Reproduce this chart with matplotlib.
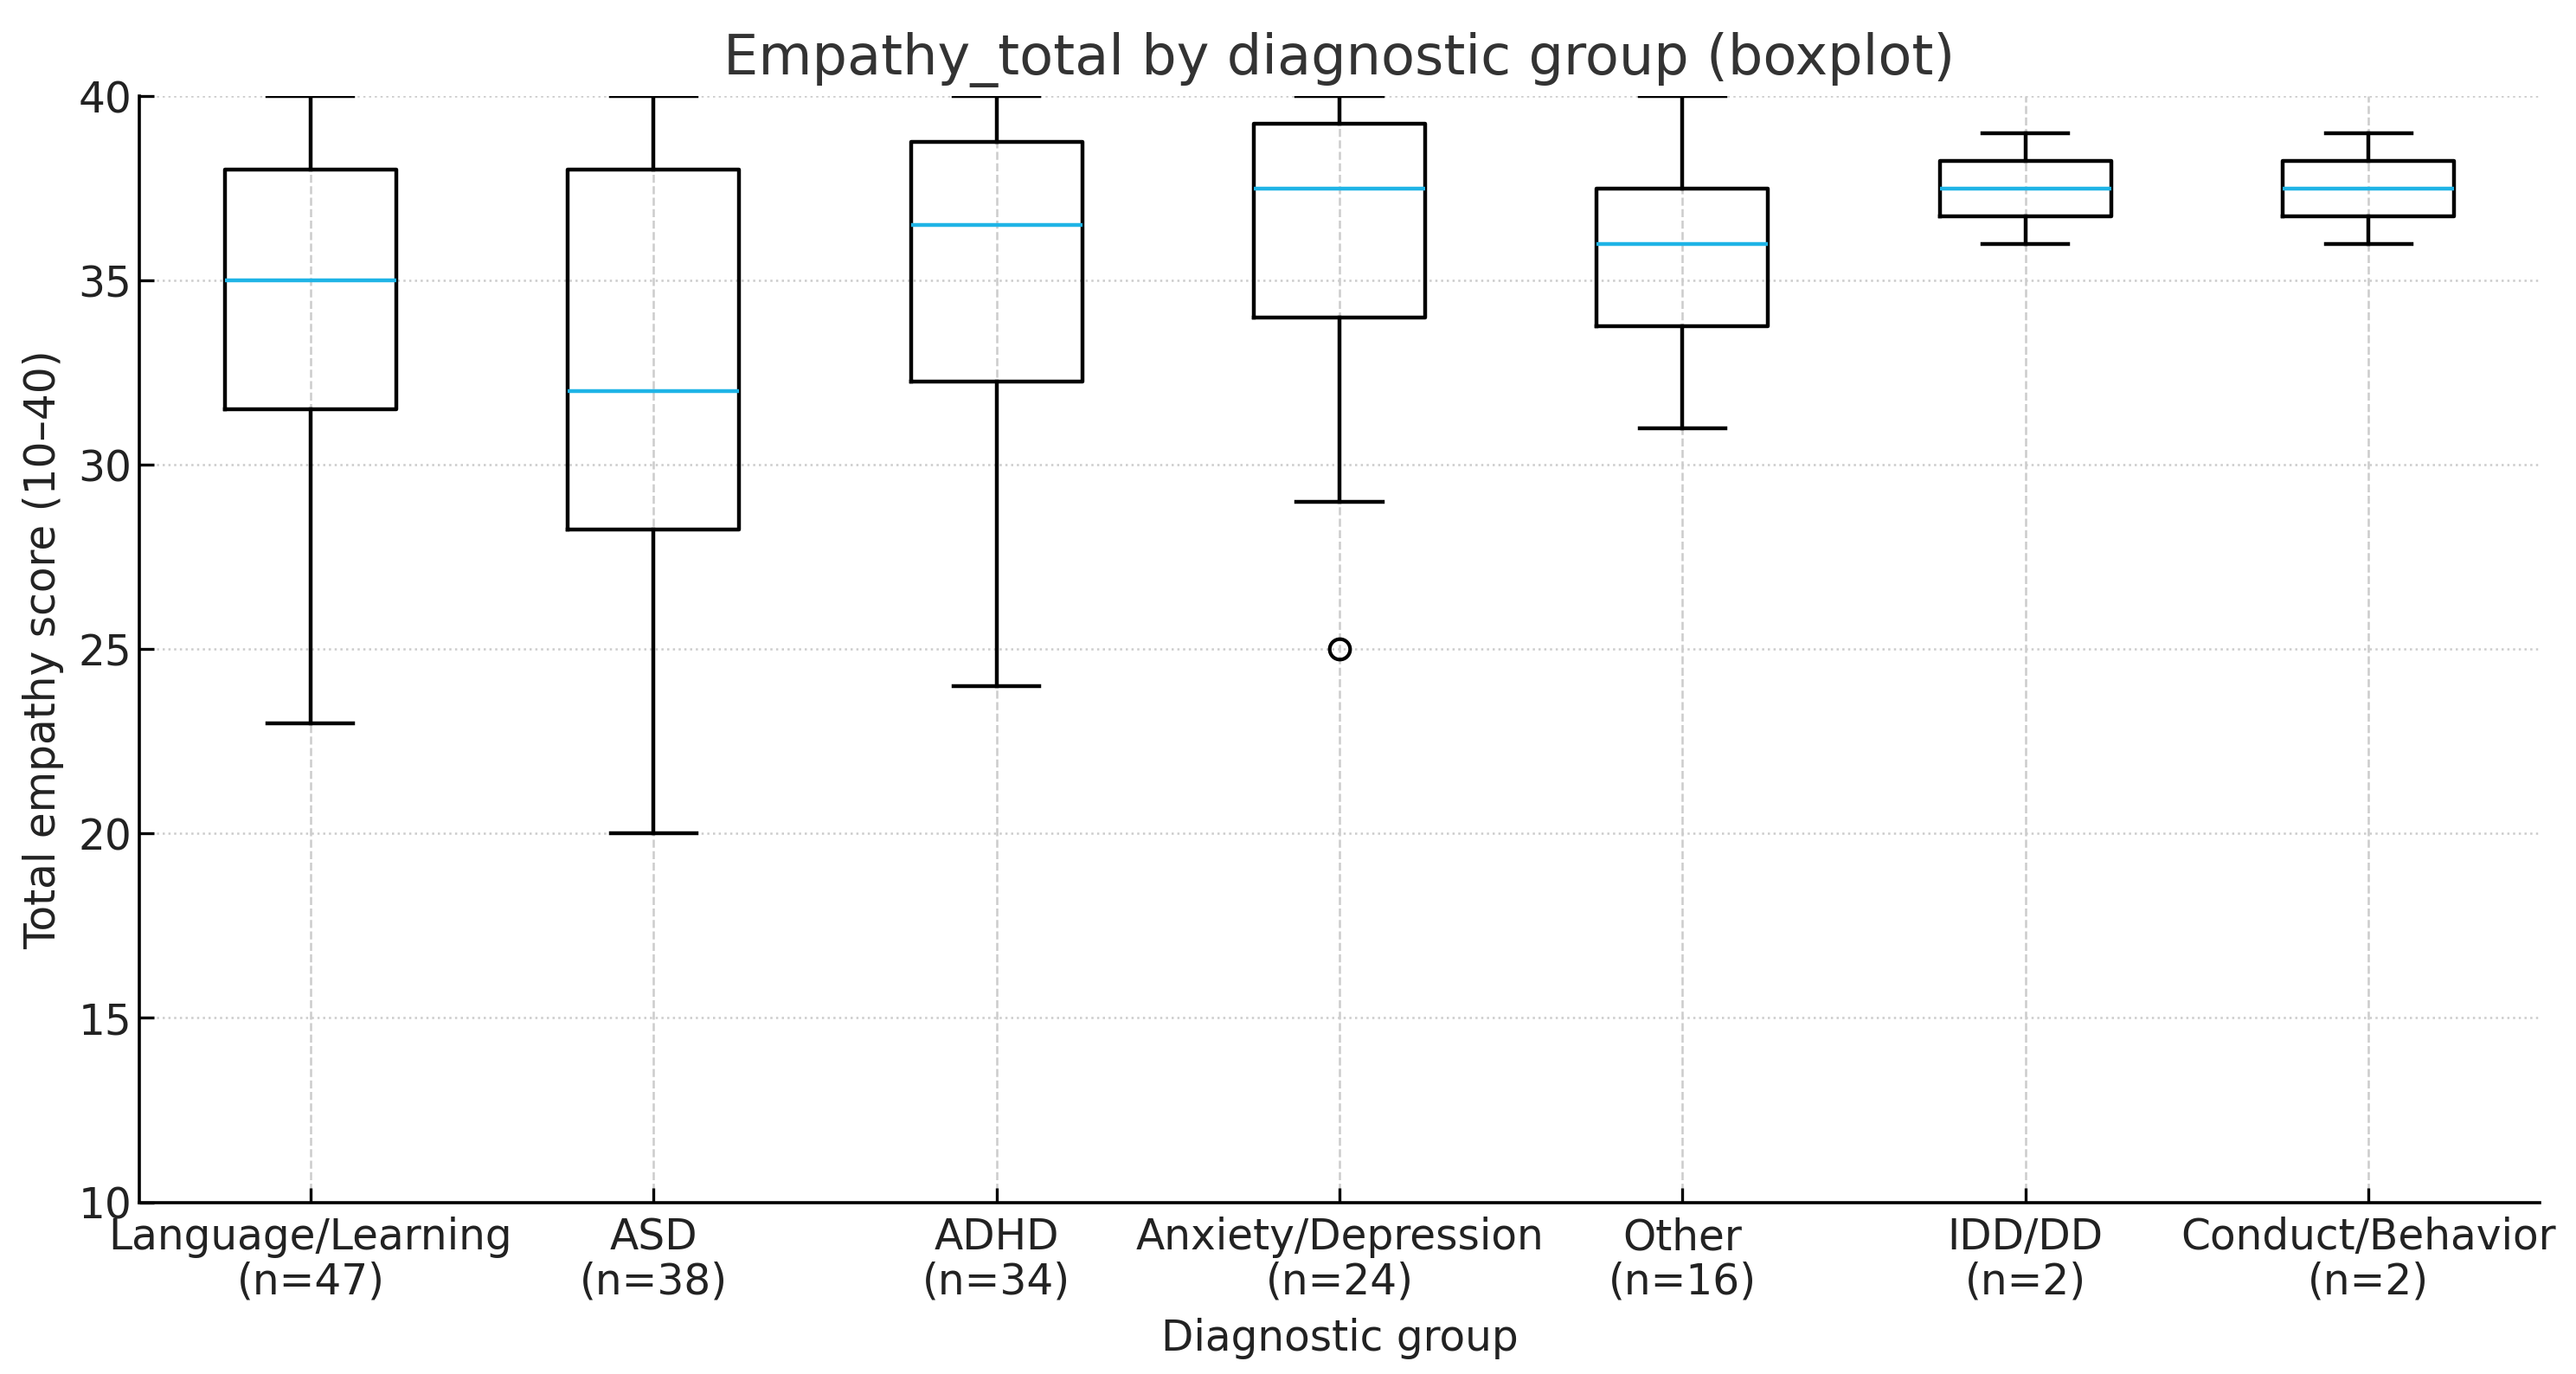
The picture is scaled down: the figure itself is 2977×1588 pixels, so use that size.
import matplotlib
matplotlib.use("Agg")
import matplotlib.pyplot as plt

# groups and their sample sizes
groups = ["Language/Learning", "ASD", "ADHD", "Anxiety/Depression", "Other", "IDD/DD", "Conduct/Behavior"]
n_sizes = [47, 38, 34, 24, 16, 2, 2]

# five-number summaries
whislo = [23, 20, 24, 29, 31, 36, 36]
q1 = [31.5, 28.25, 32.25, 34, 33.75, 36.75, 36.75]
med = [35, 32, 36.5, 37.5, 36, 37.5, 37.5]
q3 = [38, 38, 38.75, 39.25, 37.5, 38.25, 38.25]
whishi = [40, 40, 40, 40, 40, 39, 39]
fliers = [[], [], [], [25], [], [], []]

stats = []
for i in range(len(groups)):
    stats.append(dict(whislo=whislo[i], q1=q1[i], med=med[i], q3=q3[i],
                      whishi=whishi[i], fliers=fliers[i]))

fig = plt.figure(figsize=(14.885, 7.94), dpi=200)
ax = fig.add_axes([0.054, 0.125, 0.932, 0.805])

lw = 1.6
ax.bxp(stats, showfliers=True, widths=0.5,
       boxprops=dict(color="black", linewidth=lw),
       whiskerprops=dict(color="black", linewidth=lw),
       capprops=dict(color="black", linewidth=lw),
       medianprops=dict(color="#1fb4e6", linewidth=lw),
       flierprops=dict(marker="o", markerfacecolor="none", markeredgecolor="black",
                       markersize=8.5, markeredgewidth=1.5))

labels = ["{}\n(n={})".format(g, n) for g, n in zip(groups, n_sizes)]
ax.set_xticks(range(1, len(groups) + 1))
ax.set_xticklabels(labels, fontsize=17.5, color="#222222", linespacing=1.1)
ax.set_xlim(0.5, len(groups) + 0.5)
ax.set_ylim(10, 40)
ax.tick_params(axis="y", labelsize=17.5, labelcolor="#222222", pad=3)
ax.tick_params(direction="in", length=6, width=1.2)
ax.tick_params(axis="x", pad=6)

ax.yaxis.grid(True, linestyle=":", color="#cccccc", linewidth=0.9)
ax.xaxis.grid(True, linestyle="--", color="#cccccc", linewidth=0.9)
ax.set_axisbelow(True)
for s in ["top", "right"]:
    ax.spines[s].set_visible(False)
for s in ["left", "bottom"]:
    ax.spines[s].set_linewidth(1.3)

ax.set_title("Empathy_total by diagnostic group (boxplot)", fontsize=23, color="#333333", pad=9)
ax.set_xlabel("Diagnostic group", fontsize=17.5, color="#222222", labelpad=6)
ax.set_ylabel("Total empathy score (10\u201340)", fontsize=17.5, color="#222222", labelpad=6)

fig.savefig("out.png", dpi=200)
